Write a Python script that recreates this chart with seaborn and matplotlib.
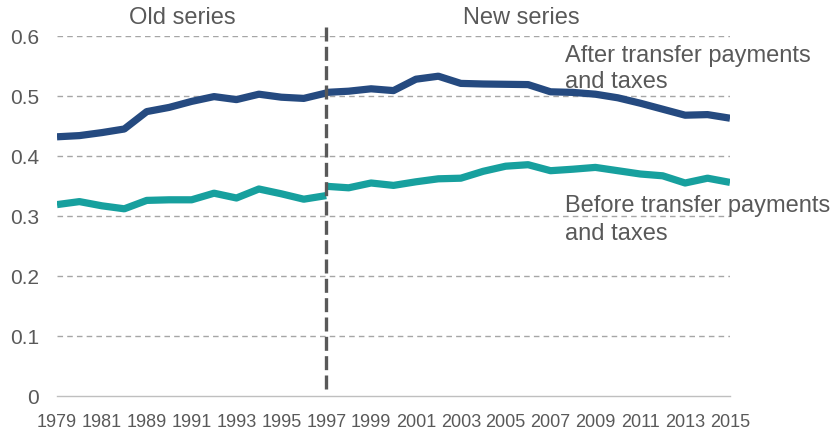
import matplotlib
matplotlib.use("Agg")
import matplotlib.pyplot as plt
import seaborn as sns
import pandas as pd
import numpy as np

# ---- data ----
old_years = ["1979", "1980", "1981", "1986", "1989", "1990", "1991", "1992",
             "1993", "1994", "1995", "1996", "1997"]
new_years = [str(y) for y in range(1997, 2016)]

old_after = [0.432, 0.434, 0.439, 0.445, 0.474, 0.481, 0.491, 0.499,
             0.494, 0.503, 0.498, 0.496, 0.505]
old_before = [0.319, 0.324, 0.317, 0.312, 0.326, 0.327, 0.327, 0.338,
              0.330, 0.345, 0.337, 0.328, 0.334]
new_after = [0.506, 0.508, 0.512, 0.509, 0.528, 0.533, 0.521, 0.520, 0.5195,
             0.519, 0.507, 0.506, 0.503, 0.497, 0.488, 0.478, 0.468, 0.469, 0.463]
new_before = [0.3495, 0.347, 0.355, 0.351, 0.357, 0.362, 0.363, 0.3745, 0.383,
              0.3855, 0.3755, 0.378, 0.381, 0.3755, 0.370, 0.367, 0.355, 0.363, 0.356]

axis_labels = old_years + new_years[1:]
n_old = len(old_years)
old_pos = list(range(n_old))
new_pos = list(range(n_old - 1, n_old - 1 + len(new_years)))

rows = []
for p, a, b in zip(old_pos, old_after, old_before):
    rows.append(dict(pos=p, value=a, series="old_after"))
    rows.append(dict(pos=p, value=b, series="old_before"))
for p, a, b in zip(new_pos, new_after, new_before):
    rows.append(dict(pos=p, value=a, series="new_after"))
    rows.append(dict(pos=p, value=b, series="new_before"))
df = pd.DataFrame(rows)

BLUE = "#254A80"
TEAL = "#17A09E"
TXT = "#595959"

sns.set_style("white")
plt.rcParams["font.family"] = ["Liberation Sans", "DejaVu Sans"]

fig = plt.figure(figsize=(8.38, 4.31), dpi=100)
ax = fig.add_axes([57 / 838, 1 - 397 / 431, (730 - 57) / 838, (397 - 37) / 431])

palette = {"old_after": BLUE, "new_after": BLUE, "old_before": TEAL, "new_before": TEAL}
sns.lineplot(data=df, x="pos", y="value", hue="series", palette=palette,
             linewidth=5.2, legend=False, ax=ax, zorder=3,
             solid_capstyle="butt")

ax.set_xlim(0, len(axis_labels) - 1)
ax.set_ylim(0, 0.6)
ax.set_xlabel("")
ax.set_ylabel("")

ax.set_yticks([0, 0.1, 0.2, 0.3, 0.4, 0.5, 0.6])
ax.set_yticklabels(["0", "0.1", "0.2", "0.3", "0.4", "0.5", "0.6"])
ax.set_xticks(range(len(axis_labels)))
ax.set_xticklabels([lab if i % 2 == 0 else "" for i, lab in enumerate(axis_labels)])

for y in [0.1, 0.2, 0.3, 0.4, 0.5, 0.6]:
    ax.axhline(y, color="#A6A6A6", lw=1.0, ls=(0, (4, 3)), zorder=1)

for s in ["top", "right", "left"]:
    ax.spines[s].set_visible(False)
ax.spines["bottom"].set_color("#BFBFBF")
ax.spines["bottom"].set_linewidth(1.0)

ax.tick_params(axis="x", which="both", direction="out", length=5, width=1,
               color="#BFBFBF", labelsize=13, labelcolor=TXT, pad=7)
ax.tick_params(axis="y", length=0, labelsize=15, labelcolor=TXT, pad=13)

# vertical break line
ax.plot([n_old - 1, n_old - 1], [0.012, 0.62], color=TXT, lw=2.4,
        ls=(0, (4.2, 1.6)), clip_on=False, zorder=4)

ax.text(5.6, 0.632, "Old series", ha="center", va="center", fontsize=17, color=TXT)
ax.text(20.7, 0.632, "New series", ha="center", va="center", fontsize=17, color=TXT)

xa = 22.65
ax.text(xa, 0.5583, "After transfer payments", ha="left", va="baseline",
        fontsize=17, color=TXT, zorder=5)
ax.text(xa, 0.515, "and taxes", ha="left", va="baseline",
        fontsize=17, color=TXT, zorder=5)
ax.text(xa, 0.3083, "Before transfer payments", ha="left", va="baseline",
        fontsize=17, color=TXT, zorder=5)
ax.text(xa, 0.2617, "and taxes", ha="left", va="baseline",
        fontsize=17, color=TXT, zorder=5)

fig.savefig("out.png", dpi=100)
